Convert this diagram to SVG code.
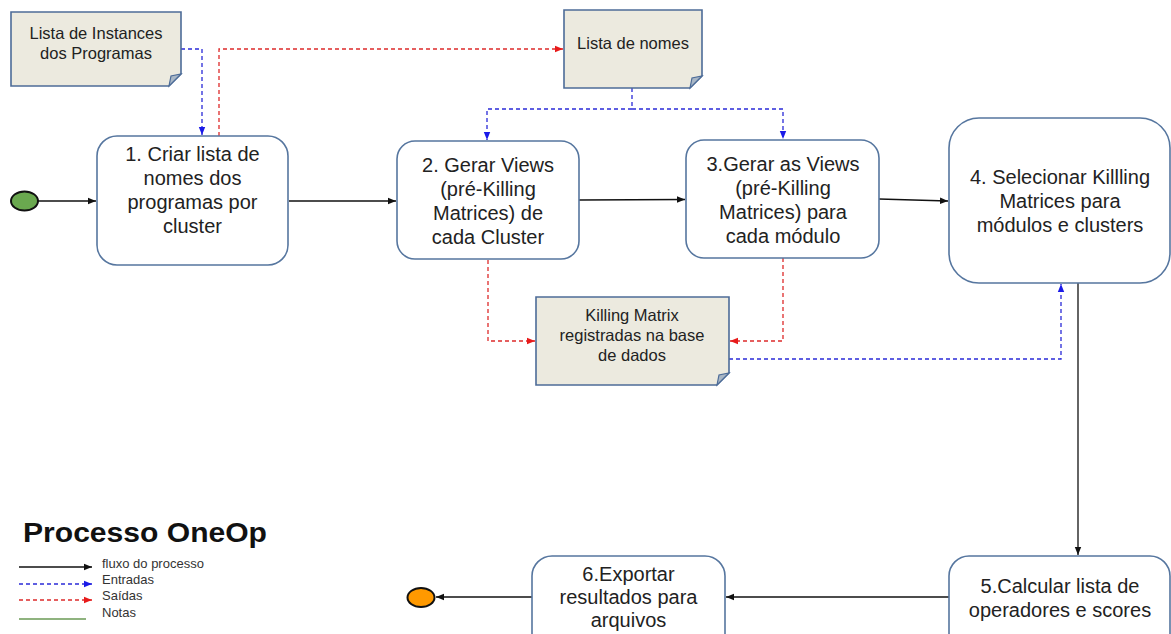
<svg xmlns="http://www.w3.org/2000/svg" width="1171" height="634" viewBox="0 0 1171 634">
  <style>
    .box { fill: #ffffff; stroke: #56769f; stroke-width: 1.6; }
    .note { fill: #eceadf; stroke: #4d6c98; stroke-width: 1.6; }
    .fold { fill: #a9b7c6; stroke: #4d6c98; stroke-width: 1.2; }
    .t { font-family: "Liberation Sans", Arial, sans-serif; fill: #222222; text-anchor: middle; }
    .bt { font-size: 20px; }
    .nt { font-size: 16.5px; }
    .flow { fill: none; stroke: #111111; stroke-width: 1.3; }
    .in { fill: none; stroke: #2a2ad8; stroke-width: 1.3; stroke-dasharray: 4 3; }
    .out { fill: none; stroke: #dd2a2a; stroke-width: 1.3; stroke-dasharray: 4 3; }
    .lg { font-family: "Liberation Sans", Arial, sans-serif; font-size: 13px; fill: #333333; }
  </style>
  <defs>
    <marker id="arrBlack" markerUnits="userSpaceOnUse" markerWidth="9" markerHeight="8" refX="8" refY="4" orient="auto">
      <path d="M0,0.8 L8,4 L0,7.2 Z" fill="#111111"/>
    </marker>
    <marker id="arrBlue" markerUnits="userSpaceOnUse" markerWidth="9" markerHeight="8" refX="8" refY="4" orient="auto">
      <path d="M0,0.8 L8,4 L0,7.2 Z" fill="#1a1ae8"/>
    </marker>
    <marker id="arrRed" markerUnits="userSpaceOnUse" markerWidth="9" markerHeight="8" refX="8" refY="4" orient="auto">
      <path d="M0,0.8 L8,4 L0,7.2 Z" fill="#e81a1a"/>
    </marker>
  </defs>

  <!-- connectors -->
  <g id="connectors">
    <!-- process flow -->
    <line class="flow" x1="38" y1="201" x2="96" y2="201" marker-end="url(#arrBlack)"/>
    <line class="flow" x1="289" y1="201" x2="396" y2="201" marker-end="url(#arrBlack)"/>
    <line class="flow" x1="579" y1="200" x2="685" y2="199.5" marker-end="url(#arrBlack)"/>
    <line class="flow" x1="879" y1="199" x2="948" y2="201" marker-end="url(#arrBlack)"/>
    <line class="flow" x1="1078" y1="283" x2="1078" y2="555" marker-end="url(#arrBlack)"/>
    <line class="flow" x1="949" y1="597" x2="726" y2="597" marker-end="url(#arrBlack)"/>
    <line class="flow" x1="532" y1="597" x2="436" y2="597" marker-end="url(#arrBlack)"/>

    <!-- inputs -->
    <polyline class="in" points="181,49 202,49 202,135" marker-end="url(#arrBlue)"/>
    <polyline class="in" points="632,88 632,109 487,109 487,140" marker-end="url(#arrBlue)"/>
    <polyline class="in" points="632,109 783,109 783,139" marker-end="url(#arrBlue)"/>
    <polyline class="in" points="729,359 1061,359 1061,284" marker-end="url(#arrBlue)"/>

    <!-- outputs -->
    <polyline class="out" points="219,136 219,49 563,49" marker-end="url(#arrRed)"/>
    <polyline class="out" points="488,260 488,341 535,341" marker-end="url(#arrRed)"/>
    <polyline class="out" points="783,258 783,341 730,341" marker-end="url(#arrRed)"/>
  </g>

  <!-- start / end events -->
  <g id="start">
    <ellipse cx="24.5" cy="201" rx="13.5" ry="9.5" fill="#6aa84f" stroke="#111111" stroke-width="2"/>
  </g>
  <g id="end">
    <ellipse cx="421" cy="597.5" rx="13.5" ry="9.5" fill="#ff9900" stroke="#111111" stroke-width="2"/>
  </g>

  <!-- notes -->
  <g id="note-instances">
    <polygon class="note" points="11,12 181,12 181,74 169,86 11,86"/>
    <polygon class="fold" points="181,74 169,86 171,76"/>
    <text class="t nt" x="96" y="39">Lista de Instances</text>
    <text class="t nt" x="96" y="59">dos Programas</text>
  </g>
  <g id="note-nomes">
    <polygon class="note" points="564,10 702,10 702,76 690,88 564,88"/>
    <polygon class="fold" points="702,76 690,88 692,78"/>
    <text class="t nt" x="633" y="49">Lista de nomes</text>
  </g>
  <g id="note-killing">
    <polygon class="note" points="536,297 729,297 729,373 717,385 536,385"/>
    <polygon class="fold" points="729,373 717,385 719,375"/>
    <text class="t nt" x="632" y="321">Killing Matrix</text>
    <text class="t nt" x="632" y="341">registradas na base</text>
    <text class="t nt" x="632" y="361">de dados</text>
  </g>

  <!-- process steps -->
  <g id="step1">
    <rect class="box" x="97" y="136" width="191" height="129" rx="20"/>
    <text class="t bt" x="192.5" y="161">1. Criar lista de</text>
    <text class="t bt" x="192.5" y="185">nomes dos</text>
    <text class="t bt" x="192.5" y="209">programas por</text>
    <text class="t bt" x="192.5" y="233">cluster</text>
  </g>
  <g id="step2">
    <rect class="box" x="397" y="141" width="182" height="118" rx="18"/>
    <text class="t bt" x="488" y="172">2. Gerar Views</text>
    <text class="t bt" x="488" y="196">(pré-Killing</text>
    <text class="t bt" x="488" y="220">Matrices) de</text>
    <text class="t bt" x="488" y="244">cada Cluster</text>
  </g>
  <g id="step3">
    <rect class="box" x="686" y="140" width="193" height="118" rx="18"/>
    <text class="t bt" x="783" y="171">3.Gerar as Views</text>
    <text class="t bt" x="783" y="195">(pré-Killing</text>
    <text class="t bt" x="783" y="219">Matrices) para</text>
    <text class="t bt" x="783" y="243">cada módulo</text>
  </g>
  <g id="step4">
    <rect class="box" x="949" y="118" width="221" height="165" rx="30"/>
    <text class="t bt" x="1060" y="184">4. Selecionar Killling</text>
    <text class="t bt" x="1060" y="208">Matrices para</text>
    <text class="t bt" x="1060" y="232">módulos e clusters</text>
  </g>
  <g id="step5">
    <rect class="box" x="949" y="556" width="221" height="100" rx="20"/>
    <text class="t bt" x="1060" y="593">5.Calcular lista de</text>
    <text class="t bt" x="1060" y="617">operadores e scores</text>
  </g>
  <g id="step6">
    <rect class="box" x="532" y="556" width="193" height="100" rx="20"/>
    <text class="t bt" x="628.5" y="581">6.Exportar</text>
    <text class="t bt" x="628.5" y="604">resultados para</text>
    <text class="t bt" x="628.5" y="627">arquivos</text>
  </g>

  <!-- legend -->
  <g id="legend">
    <text x="23" y="542" font-family="Liberation Sans, Arial, sans-serif" font-size="27" font-weight="bold" fill="#111111" textLength="244" lengthAdjust="spacingAndGlyphs">Processo OneOp</text>
    <line class="flow" x1="19" y1="567" x2="92" y2="567" marker-end="url(#arrBlack)"/>
    <line class="in" x1="19" y1="584" x2="92" y2="584" marker-end="url(#arrBlue)"/>
    <line class="out" x1="19" y1="600" x2="92" y2="600" marker-end="url(#arrRed)"/>
    <line x1="19" y1="619" x2="86" y2="619" stroke="#6a9a55" stroke-width="1.3"/>
    <text class="lg" x="102" y="568">fluxo do processo</text>
    <text class="lg" x="102" y="584">Entradas</text>
    <text class="lg" x="102" y="600">Saídas</text>
    <text class="lg" x="102" y="617">Notas</text>
  </g>
</svg>
